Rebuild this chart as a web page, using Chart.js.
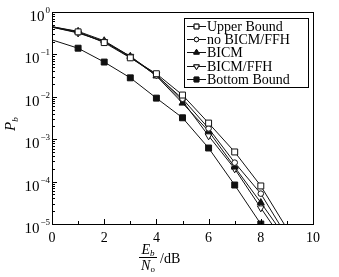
<!DOCTYPE html>
<html><head><meta charset="utf-8">
<script src="https://cdn.jsdelivr.net/npm/chart.js@4/dist/chart.umd.min.js"></script>
<style>html,body{margin:0;padding:0;background:#fff}#w{width:339px;height:277px}</style>
</head><body><div id="w"><canvas id="c" width="339" height="277"></canvas></div>
<script>
const ebno = [0, 1, 2, 3, 4, 5, 6, 7, 8, 9];
const upperBound = [0.45, 0.34, 0.19, 0.083, 0.035, 0.011, 0.0024, 5.0e-4, 7.9e-5, 7.8e-6];
const noBicmFfh  = [0.44, 0.33, 0.20, 0.085, 0.032, 0.009, 0.0018, 2.8e-4, 5.2e-5, 5.1e-6];
const bicm       = [0.45, 0.35, 0.21, 0.090, 0.031, 0.0071, 0.00155, 2.2e-4, 3.2e-5, 4.3e-6];
const bicmFfh    = [0.44, 0.32, 0.20, 0.090, 0.033, 0.008, 0.0012, 2.0e-4, 2.4e-5, 3.0e-6];
const bottomBound= [0.22, 0.14, 0.066, 0.028, 0.0093, 0.0032, 6.2e-4, 8.3e-5, 1.0e-5, 1.0e-6];
const seriesNames = ['Upper Bound', 'no BICM/FFH', 'BICM', 'BICM/FFH', 'Bottom Bound'];
const xTickValues = [0, 2, 4, 6, 8, 10];
const yExponents = [0, -1, -2, -3, -4, -5];

const radii = ebno.map((v, i) => (i === 0 || i === ebno.length - 1) ? 0 : 1);
function mk(label, vals, style, r, fill, rot) {
  return {
    label,
    data: ebno.map((x, i) => ({x, y: vals[i]})),
    borderColor: '#111', borderWidth: 1,
    pointStyle: style, pointRotation: rot || 0,
    pointRadius: radii.map(k => k * r),
    pointBackgroundColor: fill ? '#111' : '#fff',
    pointBorderColor: '#111', pointBorderWidth: 1,
    tension: 0
  };
}
const datasets = [
  mk(seriesNames[0], upperBound, 'rect', 4.2, false),
  mk(seriesNames[1], noBicmFfh, 'circle', 2.8, false),
  mk(seriesNames[2], bicm, 'triangle', 4, true),
  mk(seriesNames[3], bicmFfh, 'triangle', 4, false, 180),
  mk(seriesNames[4], bottomBound, 'rect', 4.2, true)
];

const SERIF = '"Liberation Serif", "DejaVu Serif", serif';

const deco = {
  id: 'deco',
  afterDraw(chart) {
    const {ctx, chartArea: a, scales: {x, y}} = chart;
    ctx.save();
    ctx.strokeStyle = '#000'; ctx.lineWidth = 1;
    ctx.strokeRect(a.left + 0.5, a.top + 0.5, a.right - a.left, a.bottom - a.top);
    ctx.beginPath();
    // y ticks (inward)
    for (let e = -5; e <= 0; e++) {
      for (let m = 1; m < 10; m++) {
        const v = m * Math.pow(10, e);
        if (v > 1.0000001) break;
        const py = Math.round(y.getPixelForValue(v)) + 0.5;
        const len = m === 1 ? 5 : 3;
        ctx.moveTo(a.left, py); ctx.lineTo(a.left + len, py);
      }
    }
    // x ticks (inward)
    for (let t = 1; t < 10; t++) {
      const px = Math.round(x.getPixelForValue(t)) + 0.5;
      const len = t % 2 === 0 ? 5 : 3;
      ctx.moveTo(px, a.bottom); ctx.lineTo(px, a.bottom - len);
    }
    ctx.stroke();
    // y labels 10^e
    ctx.fillStyle = '#000';
    ctx.textBaseline = 'alphabetic';
    yExponents.forEach(e => {
      const py = y.getPixelForValue(Math.pow(10, e));
      const exp = e === 0 ? '0' : '\u2212' + (-e);
      ctx.font = '9px ' + SERIF;
      const ew = ctx.measureText(exp).width;
      const right = a.left - 2;
      ctx.textAlign = 'left';
      ctx.fillText(exp, right - ew, py + 1);
      ctx.font = '15px ' + SERIF;
      ctx.textAlign = 'right';
      ctx.fillText('10', right - ew - 1, py + 9);
    });
    // y title P_b rotated
    ctx.save();
    ctx.translate(15, 131);
    ctx.rotate(-Math.PI / 2);
    ctx.textAlign = 'left';
    ctx.font = 'italic 15px ' + SERIF;
    ctx.fillText('P', 0, 0);
    const pw = ctx.measureText('P').width;
    ctx.font = 'italic 9px ' + SERIF;
    ctx.fillText('b', pw, 3);
    ctx.restore();
    // x title fraction
    const cx = 148;
    ctx.textAlign = 'left';
    ctx.font = 'italic 14px ' + SERIF;
    const Ew = ctx.measureText('E').width;
    ctx.font = 'italic 9px ' + SERIF;
    const bw = ctx.measureText('b').width;
    let sx = cx - (Ew + bw) / 2;
    ctx.font = 'italic 14px ' + SERIF;
    ctx.fillText('E', sx, 254);
    ctx.font = 'italic 9px ' + SERIF;
    ctx.fillText('b', sx + Ew, 256);
    ctx.beginPath();
    ctx.moveTo(cx - 9, 257.5); ctx.lineTo(cx + 9, 257.5); ctx.stroke();
    ctx.font = 'italic 14px ' + SERIF;
    const Nw = ctx.measureText('N').width;
    ctx.font = '9px ' + SERIF;
    const ow = ctx.measureText('o').width;
    sx = cx - (Nw + ow) / 2;
    ctx.font = 'italic 14px ' + SERIF;
    ctx.fillText('N', sx, 270);
    ctx.font = '9px ' + SERIF;
    ctx.fillText('o', sx + Nw, 272);
    ctx.font = '14px ' + SERIF;
    ctx.fillText('/dB', 160, 263);
    // legend
    const lx = 184, ly = 18, lw = 124, lh = 69;
    ctx.fillStyle = '#fff';
    ctx.fillRect(lx, ly, lw, lh);
    ctx.strokeRect(lx + 0.5, ly + 0.5, lw, lh);
    const rows = [26, 39, 52, 66, 79];
    chart.data.datasets.forEach((ds, i) => {
      const ry = rows[i];
      ctx.strokeStyle = '#111'; ctx.lineWidth = 1;
      ctx.beginPath(); ctx.moveTo(187, ry + 0.5); ctx.lineTo(206, ry + 0.5); ctx.stroke();
      const r = Math.max(...ds.pointRadius) * 0.8;
      Chart.helpers.drawPoint(ctx, {pointStyle: ds.pointStyle, rotation: ds.pointRotation, radius: r, borderWidth: 1}, 196.5, ry + 0.5);
      ctx.fillStyle = ds.pointBackgroundColor;
      ctx.fill();
      ctx.stroke();
      ctx.fillStyle = '#000';
      ctx.font = '14px ' + SERIF;
      ctx.textAlign = 'left';
      ctx.textBaseline = 'middle';
      ctx.fillText(ds.label, 207, ry + 1);
    });
    ctx.restore();
  }
};

new Chart(document.getElementById('c'), {
  type: 'line',
  data: {datasets},
  options: {
    responsive: false, animation: false,
    layout: {padding: {left: 0, top: 12, right: 26, bottom: 0}},
    plugins: {legend: {display: false}, tooltip: {enabled: false}},
    scales: {
      x: {
        type: 'linear', min: 0, max: 10,
        afterBuildTicks: s => { s.ticks = xTickValues.map(v => ({value: v})); },
        grid: {display: false, drawTicks: false},
        border: {display: false},
        ticks: {color: '#000', padding: 6, maxRotation: 0, font: {family: SERIF, size: 14}},
        afterFit: s => { s.height = 53; }
      },
      y: {
        type: 'logarithmic', min: 1e-5, max: 1,
        grid: {display: false, drawTicks: false},
        border: {display: false},
        ticks: {display: false},
        afterFit: s => { s.width = 52; }
      }
    }
  },
  plugins: [deco]
});
</script>
</body></html>
